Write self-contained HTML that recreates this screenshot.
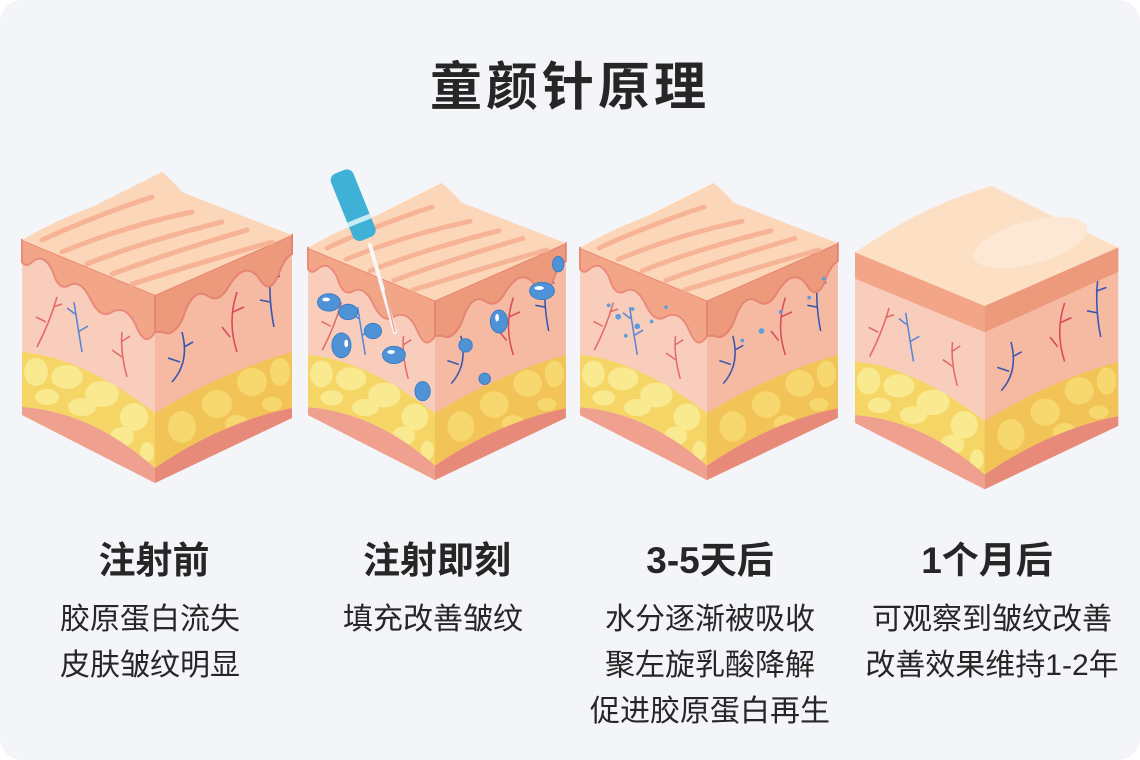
<!DOCTYPE html>
<html><head><meta charset="utf-8"><style>
html,body{margin:0;padding:0;background:#fff}
body{width:1140px;height:760px;overflow:hidden;font-family:"Liberation Sans","Noto Sans CJK SC",sans-serif}
.card{position:absolute;left:0;top:0;width:1140px;height:760px;background:#f3f5f9;border-radius:22px}
.t{position:absolute;text-align:center;color:#262626;white-space:nowrap}
.title{left:0;width:1140px;top:45px;font-size:52px;font-weight:bold;letter-spacing:4px}
.h{top:530px;font-size:37px;font-weight:bold;width:300px}
.d{top:597px;font-size:30px;line-height:46px;width:300px}
</style></head><body>
<div class="card"></div>
<svg width="1140" height="760" style="position:absolute;left:0;top:0">
<defs>
<g id="blk">
  <path d="M133,123 L270,63 L270,246 L133,311 Z" fill="#f6b9a2"/>
  <path d="M0,68 L133,123 L133,311 L0,243 Z" fill="#f9cdbb"/>
  <path d="M0,180 Q60,185 133,241 L133,296 Q70,240 0,235 Z" fill="#f5d566"/>
  <path d="M133,241 Q200,200 270,180 L270,236 Q200,250 133,296 Z" fill="#f2c356"/>
  <g fill="#f9e98f">
    <ellipse cx="14" cy="200" rx="12" ry="14"/><ellipse cx="45" cy="205" rx="16" ry="12"/><ellipse cx="80" cy="222" rx="17" ry="13"/>
    <ellipse cx="112" cy="245" rx="14" ry="14"/><ellipse cx="25" cy="225" rx="12" ry="8"/><ellipse cx="60" cy="235" rx="14" ry="9"/>
    <ellipse cx="100" cy="265" rx="12" ry="10"/><ellipse cx="125" cy="280" rx="7" ry="10"/>
  </g>
  <g fill="#f7d86e">
    <ellipse cx="160" cy="255" rx="14" ry="16"/><ellipse cx="195" cy="232" rx="15" ry="14"/><ellipse cx="230" cy="210" rx="15" ry="14"/>
    <ellipse cx="258" cy="200" rx="10" ry="14"/><ellipse cx="175" cy="280" rx="10" ry="8"/><ellipse cx="215" cy="252" rx="12" ry="9"/><ellipse cx="250" cy="232" rx="10" ry="7"/>
  </g>
  <path d="M0,235 Q70,240 133,296 L133,311 L0,243 Z" fill="#f0a08e"/>
  <path d="M133,296 Q200,250 270,236 L270,246 L133,311 Z" fill="#e88a7a"/>
  <g fill="none" stroke-width="1.6">
    <path d="M15,175 Q28,150 35,125 M24,150 L14,145 M31,135 L40,132" stroke="#e56a6a"/>
    <path d="M60,180 Q55,150 52,130 M56,160 L66,154 M53,142 L45,136" stroke="#5a86d6"/>
    <path d="M105,205 Q98,180 100,160 M100,185 L90,178 M99,170 L108,164" stroke="#e56a6a"/>
    <path d="M150,210 Q168,190 160,160 M158,190 L146,186 M162,175 L171,170" stroke="#3556b0"/>
    <path d="M215,180 Q205,150 215,120 M208,165 L200,155 M211,140 L222,135" stroke="#d94a5a"/>
    <path d="M252,155 Q245,120 250,88 M248,130 L238,128 M247,108 L258,104" stroke="#3556b0"/>
  </g>
</g>
<g id="epi">
  <path d="M0,68 L133,123 L133,160 Q124,176 115,156 Q105,132 90,140 Q78,148 68,126 Q58,106 46,114 Q36,118 31,100 Q22,80 10,90 Q4,96 0,90 Z" fill="#f2a587" stroke="#ea8a78" stroke-width="2"/>
  <path d="M133,123 L270,63 L270,82 Q262,86 256,104 Q247,124 237,106 Q223,88 207,114 Q197,132 186,124 Q171,114 161,146 Q151,166 141,160 L133,160 Z" fill="#ec997c" stroke="#e58470" stroke-width="2"/>
</g>
<g id="topW">
  <path d="M0,68 Q30,50 70,35 Q110,15 140,0 Q150,8 160,20 Q210,40 270,63 L133,123 Z" fill="#fcd6b8"/>
  <g fill="none" stroke="#f6b396" stroke-width="5" stroke-linecap="round">
    <path d="M20,68 Q70,45 130,25"/><path d="M40,80 Q100,55 170,40"/><path d="M65,92 Q120,70 200,50"/>
    <path d="M90,102 Q150,80 225,58"/><path d="M110,112 Q180,90 250,70"/>
  </g>
</g>
</defs>

<g transform="translate(22,172)"><use href="#blk"/><use href="#epi"/><use href="#topW"/></g>

<g transform="translate(308,183) scale(0.955)"><use href="#blk"/><use href="#epi"/><use href="#topW"/>
  <g fill="#4f93d6" stroke="#3a7cc4" stroke-width="1">
    <ellipse cx="22" cy="125" rx="12" ry="9"/><ellipse cx="42" cy="135" rx="10" ry="8"/><ellipse cx="68" cy="155" rx="9" ry="8"/>
    <ellipse cx="35" cy="170" rx="10" ry="13"/><ellipse cx="90" cy="180" rx="12" ry="9"/><ellipse cx="120" cy="218" rx="8" ry="10"/>
    <ellipse cx="165" cy="170" rx="7" ry="7"/><ellipse cx="200" cy="145" rx="9" ry="12"/><ellipse cx="245" cy="113" rx="13" ry="9"/>
    <ellipse cx="262" cy="85" rx="6" ry="8"/><ellipse cx="185" cy="205" rx="6" ry="6"/>
  </g>
  <g fill="#fff">
    <ellipse cx="19" cy="122" rx="4" ry="2"/><ellipse cx="40" cy="168" rx="2" ry="4"/><ellipse cx="87" cy="177" rx="4" ry="2"/>
    <ellipse cx="242" cy="110" rx="5" ry="2"/><ellipse cx="198" cy="141" rx="2" ry="4"/>
  </g>
</g>
<g>
  <line x1="370" y1="245" x2="395" y2="332" stroke="#f7f7f7" stroke-width="4" stroke-linecap="round"/>
  <line x1="385" y1="290" x2="395" y2="332" stroke="#f0a090" stroke-width="1.5"/>
  <g transform="rotate(-22 350 200)">
    <rect x="339" y="170" width="24" height="72" rx="7" fill="#3fb0d6"/>
    <rect x="339" y="220" width="24" height="5" fill="#c5ecf5"/>
  </g>
</g>

<g transform="translate(580,183) scale(0.955)"><use href="#blk"/><use href="#epi"/><use href="#topW"/>
  <g fill="#5ba0dc">
    <circle cx="30" cy="128" r="2"/><circle cx="40" cy="140" r="3"/><circle cx="55" cy="132" r="2"/><circle cx="60" cy="150" r="3"/>
    <circle cx="75" cy="145" r="2"/><circle cx="48" cy="160" r="2"/><circle cx="90" cy="130" r="2"/><circle cx="170" cy="165" r="2"/>
    <circle cx="190" cy="155" r="3"/><circle cx="210" cy="135" r="2"/><circle cx="240" cy="120" r="2"/><circle cx="255" cy="100" r="2"/>
  </g>
</g>

<g transform="translate(855,186) scale(0.975)"><use href="#blk"/>
  <path d="M0,68 L133,123 L133,150 L0,95 Z" fill="#f2a587"/>
  <path d="M133,123 L270,63 L270,88 L133,150 Z" fill="#ec997c"/>
  <path d="M0,68 Q70,20 140,0 Q200,30 270,63 L133,123 Z" fill="#fde0c4"/>
  <ellipse cx="180" cy="58" rx="60" ry="22" fill="#fce8d4" transform="rotate(-15 180 58)"/>
</g>
</svg>

<div class="t title">童颜针原理</div>
<div class="t h" style="left:4px">注射前</div>
<div class="t h" style="left:287px">注射即刻</div>
<div class="t h" style="left:560px">3-5天后</div>
<div class="t h" style="left:837px">1个月后</div>
<div class="t d" style="left:0px">胶原蛋白流失<br>皮肤皱纹明显</div>
<div class="t d" style="left:283px">填充改善皱纹</div>
<div class="t d" style="left:560px">水分逐渐被吸收<br>聚左旋乳酸降解<br>促进胶原蛋白再生</div>
<div class="t d" style="left:842px">可观察到皱纹改善<br>改善效果维持1-2年</div>
</body></html>
